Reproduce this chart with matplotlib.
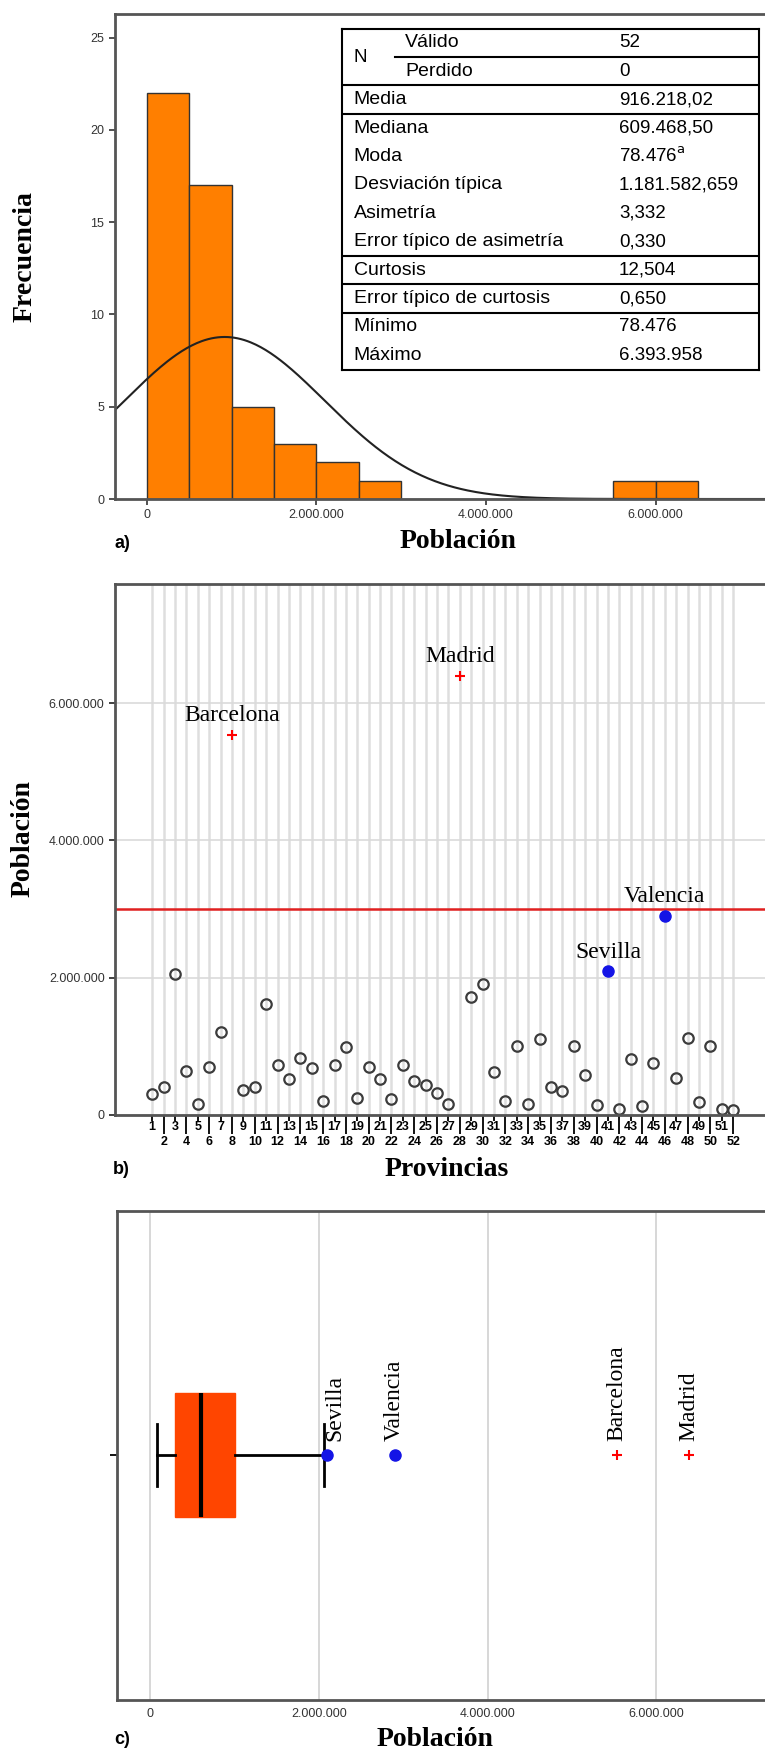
import numpy as np
import matplotlib
matplotlib.use("Agg")
import matplotlib.pyplot as plt
from matplotlib import cbook
from matplotlib.ticker import FuncFormatter

plt.rcParams['font.family'] = ['Liberation Sans', 'DejaVu Sans']

# Población por provincia (código INE 1..52)
provincias = list(range(1, 53))
poblacion = [306000, 405000, 2055000, 643000, 162000, 695000, 1205000, 5540000, 365000, 405000,
             1620000, 730000, 527000, 828000, 683000, 209000, 730000, 985000, 249000, 701000,
             527000, 231000, 723000, 492000, 440000, 318000, 162000, 6394000, 1715000, 1913000,
             626000, 209000, 1010000, 162000, 1100000, 411000, 348000, 1010000, 585000, 150000,
             2090000, 92000, 817000, 127000, 753000, 2897000, 539000, 1118000, 184000, 997000,
             87000, 78476]
nombres = {8: "Barcelona", 28: "Madrid", 41: "Sevilla", 46: "Valencia"}

# tabla de estadísticos (SPSS)
tabla_etiquetas = ["Válido", "Perdido", "Media", "Mediana", "Moda", "Desviación típica",
                   "Asimetría", "Error típico de asimetría", "Curtosis",
                   "Error típico de curtosis", "Mínimo", "Máximo"]
tabla_valores = ["52", "0", "916.218,02", "609.468,50", r"78.476$^{\mathrm{a}}$", "1.181.582,659",
                 "3,332", "0,330", "12,504", "0,650", "78.476", "6.393.958"]
media = 916218.02
desv = 1181582.659
n_validos = 52
bin_ancho = 500000
umbral = 3000000

W, H = 765, 1754
serif = 'Liberation Serif'


def rect(l, t, r, b):
    return [l / W, 1 - b / H, (r - l) / W, (b - t) / H]


def miles(v, pos=None):
    return f"{v:,.0f}".replace(",", ".")


fig = plt.figure(figsize=(W / 100, H / 100), dpi=100)

# ---------- a) histograma ----------
ax1 = fig.add_axes(rect(114.5, 13.6, 770, 499))
bordes = np.arange(0, 7000000, bin_ancho)
ax1.hist(poblacion, bins=bordes, color="#ff7f00", edgecolor="#333333", linewidth=1)
xlim_a = (-383000, 7350000)
xs = np.linspace(xlim_a[0], xlim_a[1], 400)
curva = n_validos * bin_ancho * np.exp(-0.5 * ((xs - media) / desv) ** 2) / (desv * np.sqrt(2 * np.pi))
ax1.plot(xs, curva, color="#222222", lw=1.5)
ax1.set_xlim(*xlim_a)
ax1.set_ylim(0, 26.3)
ax1.set_yticks([0, 5, 10, 15, 20, 25])
ax1.set_xticks([0, 2000000, 4000000, 6000000])
ax1.xaxis.set_major_formatter(FuncFormatter(miles))
ax1.tick_params(length=4, width=1.2, labelsize=9, colors="#333333")

# tabla
tb = fig.add_axes(rect(341.5, 28.6, 758.6, 369.6))
tb.set_xlim(0, 1)
tb.set_ylim(12, 0)
tb.set_xticks([])
tb.set_yticks([])
for s in tb.spines.values():
    s.set_linewidth(1.5)
for y in [2, 3, 8, 9, 10]:
    tb.axhline(y, color="black", lw=1.5)
tb.plot([0.128, 1], [1, 1], color="black", lw=1.5)
tb.text(0.029, 1.0, "N", va="center", fontsize=13.5)
for i, (et, va) in enumerate(zip(tabla_etiquetas, tabla_valores)):
    tb.text(0.152 if i < 2 else 0.029, i + 0.5, et, va="center", fontsize=14)
    tb.text(0.665, i + 0.5, va, va="center", fontsize=13.5)

fig.text(25 / W, 1 - 257 / H, "Frecuencia", rotation=90, ha="center", va="center",
         family=serif, weight="bold", fontsize=20)
fig.text(458 / W, 1 - 541 / H, "Población", ha="center", va="center",
         family=serif, weight="bold", fontsize=20)
fig.text(114.6 / W, 1 - 544 / H, "a)", ha="left", va="center", weight="bold", fontsize=13)

# ---------- b) dispersión por provincias ----------
est = cbook.boxplot_stats(poblacion)[0]
iqr = est['q3'] - est['q1']
tipo = []
for v in poblacion:
    if v > est['q3'] + 3 * iqr:
        tipo.append('extremo')
    elif v > est['whishi']:
        tipo.append('atipico')
    else:
        tipo.append('normal')

ax2 = fig.add_axes(rect(115, 583.8, 770, 1114.9))
ax2.axhline(umbral, color="#e02020", lw=1.8, zorder=2)
px = np.array(provincias)
py = np.array(poblacion)
tp = np.array(tipo)
ax2.plot(px[tp == 'normal'], py[tp == 'normal'], 'o', mfc='none', mec='#3c3c3c', ms=7.5, mew=1.6)
ax2.plot(px[tp == 'atipico'], py[tp == 'atipico'], 'o', color='#1414e6', ms=8)
ax2.plot(px[tp == 'extremo'], py[tp == 'extremo'], '+', color='red', ms=7, mew=1.5)
for prov, nom in nombres.items():
    ax2.annotate(nom, (prov, poblacion[prov - 1]), xytext=(0, 10), textcoords='offset points',
                 ha='center', va='baseline', family=serif, fontsize=17)
ax2.set_xlim(-2.27, 55.23)
ax2.set_ylim(0, 7740000)
impares = [p for p in provincias if p % 2 == 1]
pares = [p for p in provincias if p % 2 == 0]
ax2.set_xticks(impares, labels=[str(p) for p in impares])
ax2.set_xticks(pares, labels=[str(p) for p in pares], minor=True)
ax2.tick_params(axis='x', which='major', length=4, width=1.3, pad=0.5, labelsize=9)
ax2.tick_params(axis='x', which='minor', length=14, width=1.3, pad=1, labelsize=9)
for lbl in ax2.get_xticklabels(which='both'):
    lbl.set_fontweight('bold')
ax2.set_yticks([0, 2000000, 4000000, 6000000])
ax2.yaxis.set_major_formatter(FuncFormatter(miles))
ax2.tick_params(axis='y', length=4, width=1.3, labelsize=9, colors="#333333")
ax2.grid(axis='x', which='both', color='#dedede', lw=1.8)
ax2.grid(axis='y', which='major', color='#dadada', lw=1.2)
ax2.set_axisbelow(True)

fig.text(23 / W, 1 - 839 / H, "Población", rotation=90, ha="center", va="center",
         family=serif, weight="bold", fontsize=20)
fig.text(447 / W, 1 - 1170 / H, "Provincias", ha="center", va="center",
         family=serif, weight="bold", fontsize=20)
fig.text(113 / W, 1 - 1170 / H, "b)", ha="left", va="center", weight="bold", fontsize=13)

# ---------- c) diagrama de caja ----------
ax3 = fig.add_axes(rect(117.1, 1210.5, 770, 1700.1))
ax3.boxplot(poblacion, orientation='horizontal', whis=1.5, showfliers=False, widths=0.254,
            patch_artist=True,
            boxprops=dict(facecolor='#ff4500', edgecolor='#ff4500'),
            medianprops=dict(color='black', lw=3),
            whiskerprops=dict(color='black', lw=2),
            capprops=dict(color='black', lw=2))
ax3.plot(py[tp == 'atipico'], np.ones((tp == 'atipico').sum()), 'o', color='#1414e6', ms=8)
ax3.plot(py[tp == 'extremo'], np.ones((tp == 'extremo').sum()), '+', color='red', ms=7, mew=1.5)
for prov, nom in nombres.items():
    dx = 6 if nom == "Sevilla" else 0
    ax3.annotate(nom, (poblacion[prov - 1], 1), xytext=(dx, 10), textcoords='offset points',
                 rotation=90, ha='center', va='bottom', family=serif, fontsize=17)
ax3.set_xlim(-394000, 7351000)
ax3.set_ylim(0.5, 1.5)
ax3.set_yticks([1], labels=[""])
ax3.set_xticks([0, 2000000, 4000000, 6000000])
ax3.xaxis.set_major_formatter(FuncFormatter(miles))
ax3.tick_params(axis='x', length=0, pad=6, labelsize=9, colors="#333333")
ax3.tick_params(axis='y', length=5, width=1.3)
ax3.grid(axis='x', color='#d4d4d4', lw=1.3)
ax3.set_axisbelow(True)

fig.text(435 / W, 1 - 1740 / H, "Población", ha="center", va="center",
         family=serif, weight="bold", fontsize=20)
fig.text(114.6 / W, 1 - 1740 / H, "c)", ha="left", va="center", weight="bold", fontsize=13)

for ax in (ax1, ax2, ax3):
    ax.spines['right'].set_visible(False)
    for s in ('left', 'top', 'bottom'):
        ax.spines[s].set_color('#555555')
        ax.spines[s].set_linewidth(2)

fig.savefig("out.png", dpi=100)
